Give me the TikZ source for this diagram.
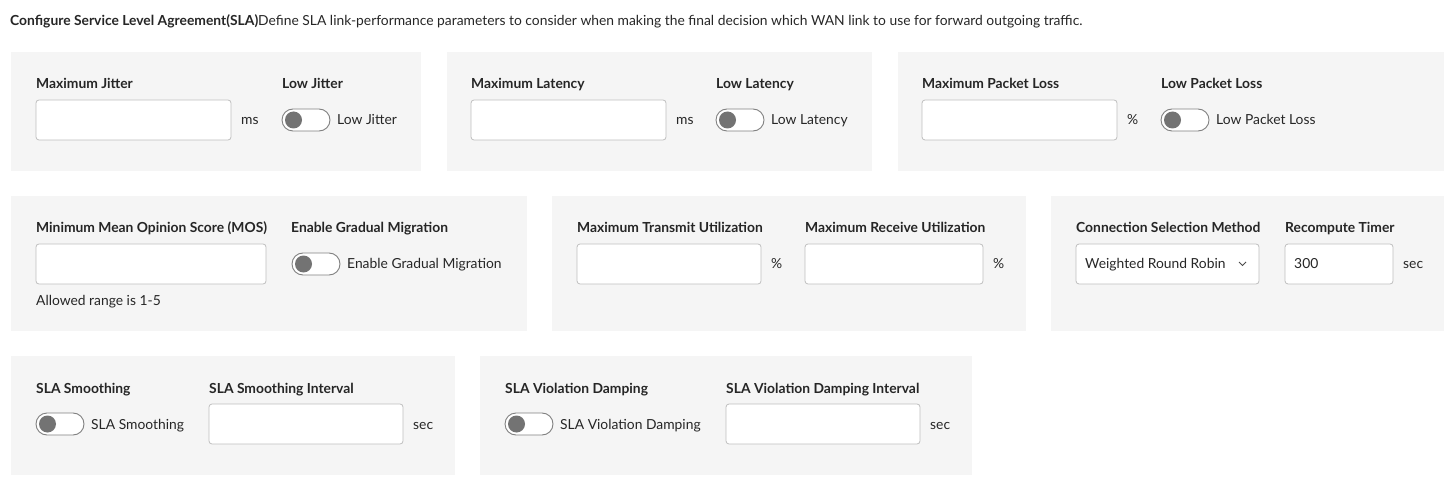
\documentclass[tikz,border=0pt]{standalone}
\usepackage{fontspec}
\setmainfont{Lato}
\begin{document}
\begin{tikzpicture}[x=1pt,y=-1pt,
  panel/.style={fill=black!4,draw=none},
  inbox/.style={draw=black!25,fill=white,rounded corners=3pt,line width=0.8pt},
  lbl/.style={anchor=base west,inner sep=0pt,text=black!85,font=\fontsize{13.85}{16}\selectfont},
  lblb/.style={lbl,font=\fontsize{13.85}{16}\selectfont\bfseries},
  tgl/.style={draw=black!50,fill=white,rounded corners=11pt,line width=0.9pt},
  knob/.style={fill=black!55,draw=none}]
\useasboundingbox (0,0) rectangle (1455,486);
\node[lbl] (title) at (10,26) {\textbf{Configure Service Level Agreement(SLA)}Define SLA link-performance parameters to consider when making the final decision which WAN link to use for forward outgoing traffic.};
\newcommand{\tog}[3]{\draw[tgl] (#1,#2-11) rectangle (#1+48,#2+11);
  \fill[knob] (#1+11.5,#2) circle (8.5);
  \node[lbl] at (#1+55,#2+5) {#3};}
\newcommand{\inp}[4]{\draw[inbox] (#1,#2-20) rectangle (#3,#2+20); \node[lbl] at (#3+10,#2+5) {#4};}
% row 1
\fill[panel] (11,52) rectangle (421,171);
\fill[panel] (447,52) rectangle (872,171);
\fill[panel] (898,52) rectangle (1444,171);
\node[lblb] (l1) at (36,89) {Maximum Jitter};
\node[lblb] (l2) at (282,89) {Low Jitter};
\inp{36}{120}{231}{ms}
\tog{282}{120}{Low Jitter}
\node[lblb] (l3) at (471,89) {Maximum Latency};
\node[lblb] (l4) at (716,89) {Low Latency};
\inp{471}{120}{666}{ms}
\tog{716}{120}{Low Latency}
\node[lblb] (l5) at (922,89) {Maximum Packet Loss};
\node[lblb] (l6) at (1161,89) {Low Packet Loss};
\inp{922}{120}{1117}{\%}
\tog{1161}{120}{Low Packet Loss}
% row 2
\fill[panel] (11,196) rectangle (527,331);
\fill[panel] (552,196) rectangle (1026,331);
\fill[panel] (1051,196) rectangle (1444,331);
\node[lblb] (m1) at (36,233) {Minimum Mean Opinion Score (MOS)};
\draw[inbox] (36,244) rectangle (266,284);
\node[lbl] (m1h) at (36,305) {Allowed range is 1-5};
\node[lblb] (m2) at (291,233) {Enable Gradual Migration};
\tog{292}{264}{Enable Gradual Migration}
\node[lblb] (m3) at (577,233) {Maximum Transmit Utilization};
\inp{577}{264}{761}{\%}
\node[lblb] (m4) at (805,233) {Maximum Receive Utilization};
\inp{805}{264}{983}{\%}
\node[lblb] (m5) at (1076,233) {Connection Selection Method};
\draw[inbox] (1076,244) rectangle (1259,284);
\node[lbl] (sel) at (1085,269) {Weighted Round Robin};
\draw[black!70,line width=0.8pt] (1239,262) -- (1242.5,265.5) -- (1246,262);
\node[lblb] (m6) at (1285,233) {Recompute Timer};
\inp{1285}{264}{1393}{sec}
\node[lbl] (v300) at (1294,269) {300};
% row 3
\fill[panel] (11,356) rectangle (455,475);
\fill[panel] (480,356) rectangle (972,475);
\node[lblb] (s1) at (36,393) {SLA Smoothing};
\tog{36}{424}{SLA Smoothing}
\node[lblb] (s2) at (209,393) {SLA Smoothing Interval};
\inp{209}{424}{403}{sec}
\node[lblb] (s3) at (505,393) {SLA Violation Damping};
\tog{505}{424}{SLA Violation Damping}
\node[lblb] (s4) at (726,393) {SLA Violation Damping Interval};
\inp{726}{424}{920}{sec}
\end{tikzpicture}
\end{document}
